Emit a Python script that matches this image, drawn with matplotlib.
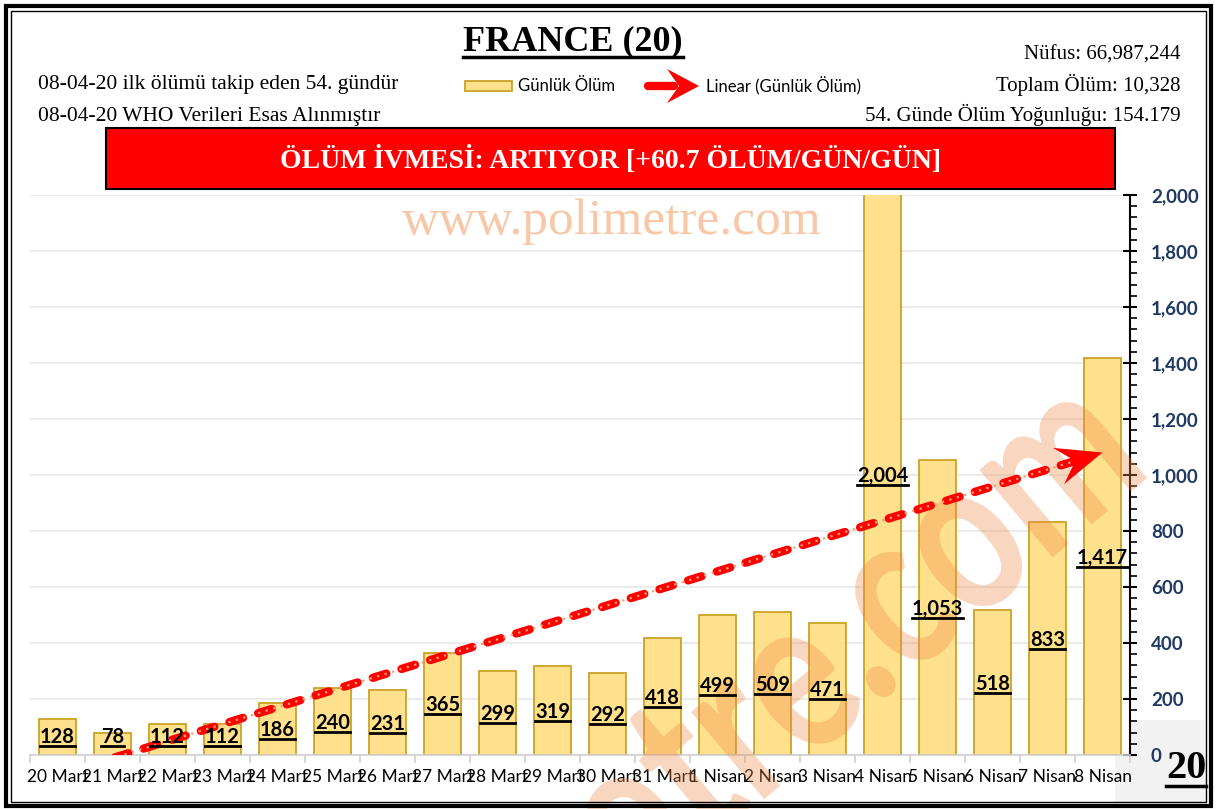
import numpy as np
import matplotlib
matplotlib.use("Agg")
import matplotlib.pyplot as plt
from matplotlib.patches import Rectangle, Polygon, PathPatch
from matplotlib.lines import Line2D
from matplotlib.ticker import MultipleLocator, FuncFormatter
from matplotlib.transforms import offset_copy, IdentityTransform, Affine2D
from matplotlib.textpath import TextPath
from matplotlib.font_manager import FontProperties

# ---- data ----
dates = ["20 Mart", "21 Mart", "22 Mart", "23 Mart", "24 Mart", "25 Mart", "26 Mart",
         "27 Mart", "28 Mart", "29 Mart", "30 Mart", "31 Mart", "1 Nisan", "2 Nisan",
         "3 Nisan", "4 Nisan", "5 Nisan", "6 Nisan", "7 Nisan", "8 Nisan"]
deaths = [128, 78, 112, 112, 186, 240, 231, 365, 299, 319, 292, 418, 499, 509,
          471, 2004, 1053, 518, 833, 1417]

title = "FRANCE (20)"
info_left = ["08-04-20 ilk ölümü takip eden 54. gündür", "08-04-20 WHO Verileri Esas Alınmıştır"]
info_right = ["Nüfus: 66,987,244", "Toplam Ölüm: 10,328", "54. Günde Ölüm Yoğunluğu: 154.179"]
banner = "ÖLÜM İVMESİ: ARTIYOR [+60.7 ÖLÜM/GÜN/GÜN]"
legend_bar = "Günlük Ölüm"
legend_trend = "Linear (Günlük Ölüm)"
watermark = "www.polimetre.com"
yticks = [0, 200, 400, 600, 800, 1000, 1200, 1400, 1600, 1800, 2000]

W, H = 1216, 809
fig = plt.figure(figsize=(W / 100, H / 100), dpi=100)

def fx(x):
    return x / W

def fy(y):
    return 1 - y / H

SERIF = "Liberation Serif"
SANS = "Lato"
BAR_FC = "#FFE08C"
BAR_EC = "#C9A227"
NAVY = "#1F3864"
RED = "#FF0000"

# ---- axes ----
ax = fig.add_axes([fx(30), fy(755), fx(1130) - fx(30), fy(195) - fy(755)])
x = np.arange(1, len(deaths) + 1)
ax.bar(x, deaths, width=0.68, color=BAR_FC, edgecolor=BAR_EC, linewidth=1.3, zorder=2)
ax.set_xlim(0.5, len(deaths) + 0.5)
ax.set_ylim(0, 2000)

# axes styling
for s in ["left", "top"]:
    ax.spines[s].set_visible(False)
ax.spines["right"].set_color("black")
ax.spines["right"].set_linewidth(1.5)
ax.spines["bottom"].set_color("#D0D0D0")
ax.spines["bottom"].set_linewidth(1.2)
ax.yaxis.tick_right()
ax.set_yticks(yticks)
ax.yaxis.set_minor_locator(MultipleLocator(40))
ax.yaxis.set_major_formatter(FuncFormatter(lambda v, p: f"{int(v):,}"))
ax.tick_params(axis="y", which="major", direction="inout", length=10, width=1.5, color="black",
               labelsize=13.5, labelcolor=NAVY, pad=10)
ax.tick_params(axis="y", which="minor", direction="out", length=5, width=1.2, color="black")
for lab in ax.get_yticklabels():
    lab.set_fontweight("bold")
    lab.set_fontfamily(SANS)
ax.set_xticks(x)
ax.set_xticklabels(dates, fontfamily=SANS, fontsize=12.5)
ax.set_xticks(np.arange(0.5, len(deaths) + 1, 1), minor=True)
ax.tick_params(axis="x", which="major", length=0, pad=10)
ax.tick_params(axis="x", which="minor", length=6, color="#D0D0D0", width=1.2)
ax.yaxis.grid(True, color="#E8E8E8", lw=1.2, zorder=0)
ax.set_axisbelow(True)

# trend line (linear regression)
slope, intercept = np.polyfit(x, deaths, 1)
xe = len(deaths)
tip = ax.transData.transform((xe, slope * xe + intercept))
p0 = ax.transData.transform((xe - 1, slope * (xe - 1) + intercept))
d = (tip - p0) / np.linalg.norm(tip - p0)
n = np.array([-d[1], d[0]])
L, Wd = 46, 19
line_end_disp = tip - 0.65 * L * d
x_end = ax.transData.inverted().transform(line_end_disp)[0]
xt = np.linspace(1, x_end, 300)
yt = slope * xt + intercept
ax.plot(xt, yt, color=RED, lw=6, linestyle=(0, (1.7, 1.9)), dash_capstyle="round", zorder=4.5)
ax.plot(xt, yt, color="#F4A070", lw=1.6, linestyle=(0, (1, 2.5)), zorder=4.6)
head = Polygon([tip, tip - L * d + Wd * n, tip - 0.62 * L * d, tip - L * d - Wd * n],
               closed=True, transform=IdentityTransform(), facecolor=RED, edgecolor="none",
               zorder=5)
ax.add_artist(head)

# data labels (cap-centred in bars, kept clear of the axis, bold, underlined)
FS_LAB = 14.5
lab_tr = offset_copy(ax.transData, fig=fig, y=-0.36 * FS_LAB, units="points")
data_texts = []
for xi, v in zip(x, deaths):
    t = ax.text(xi, max(v / 2, 70), f"{v:,}", ha="center", va="baseline", fontsize=FS_LAB,
                fontweight="bold", fontfamily=SANS, color="black", zorder=6, transform=lab_tr)
    data_texts.append(t)

# diagonal watermark, drawn as a condensed text path (pixel coordinates)
wm_prop = FontProperties(family=SANS, weight="bold")
tp = TextPath((0, 0), watermark, size=1, prop=wm_prop)
xmax = tp.vertices[:, 0].max()
k = watermark.index("tre.com")
t_left = TextPath((0, 0), watermark[:k], size=1, prop=wm_prop).vertices[:, 0].max()
t_right = TextPath((0, 0), watermark[:k + 1], size=1, prop=wm_prop).vertices[:, 0].max()
t_center = 0.5 * (t_left + t_right) + 0.03
em_x = 540.0 / (xmax - t_center)
wm_tr = (Affine2D().translate(-xmax, 0).scale(em_x, 222).rotate_deg(40)
         .translate(1147, H - 478))
wm = PathPatch(tp, transform=wm_tr, facecolor="#F08A4B", edgecolor="none", alpha=0.35,
               zorder=3, clip_on=False)
ax.add_artist(wm)

# ---- header texts ----
t_title = fig.text(fx(573), fy(50), title, ha="center", va="baseline", fontsize=26,
                   fontweight="bold", fontfamily=SERIF)
for i, s in enumerate(info_left):
    fig.text(fx(38), fy(85 + 31 * i), s, ha="left", va="center", fontsize=15.5, fontfamily=SERIF)
for i, s in enumerate(info_right):
    fig.text(fx(1181), fy(55 + 30 * i), s, ha="right", va="center", fontsize=15, fontfamily=SERIF)

# legend
fig.patches.append(Rectangle((fx(465), fy(91)), fx(47), fx(10) * W / H, transform=fig.transFigure,
                             facecolor=BAR_FC, edgecolor=BAR_EC, lw=1.3))
fig.text(fx(518), fy(86), legend_bar, ha="left", va="center", fontsize=12, fontfamily=SANS)
fig.lines.append(Line2D([fx(648), fx(674)], [fy(86), fy(86)], transform=fig.transFigure,
                        color=RED, lw=6, solid_capstyle="round"))
fig.patches.append(Polygon(
    [(fx(667), fy(69)), (fx(699), fy(86)), (fx(667), fy(103)), (fx(679), fy(86))],
    closed=True, transform=fig.transFigure, facecolor=RED, edgecolor="none"))
fig.text(fx(706), fy(86), legend_trend, ha="left", va="center", fontsize=12, fontfamily=SANS)

# banner
fig.patches.append(Rectangle((fx(106), fy(189)), fx(1115) - fx(106), fy(128) - fy(189),
                             transform=fig.transFigure, facecolor=RED, edgecolor="black", lw=1.5))
fig.text(fx(611), fy(160), banner, ha="center", va="center", fontsize=20, fontweight="bold",
         fontfamily=SERIF, color="white")

# top watermark
fig.text(fx(612), fy(222), watermark, ha="center", va="center", fontsize=37,
         fontfamily=SERIF, color="#F4B183", alpha=0.7)

# bottom-right gray box and number
fig.patches.append(Rectangle((fx(1115), fy(802)), fx(1207) - fx(1115), fy(720) - fy(802),
                             transform=fig.transFigure, facecolor="#F2F2F2", edgecolor="none", zorder=-1))
t_num = fig.text(fx(1186), fy(778), "20", ha="center", va="baseline", fontsize=29,
                 fontweight="bold", fontfamily=SERIF)

# frame
fig.patches.append(Rectangle((fx(5.5), fy(806)), fx(1205.5), fy(5.5) - fy(806), transform=fig.transFigure,
                             facecolor="none", edgecolor="black", lw=3))
fig.patches.append(Rectangle((fx(10.5), fy(802)), fx(1195.5), fy(10.5) - fy(802), transform=fig.transFigure,
                             facecolor="none", edgecolor="black", lw=1))

# underlines below the baseline
fig.canvas.draw()
r = fig.canvas.get_renderer()

def underline(t, lw, gap_px):
    bb = t.get_window_extent(r)
    base = t.get_transform().transform(t.get_position())[1]
    y = base - gap_px
    fig.lines.append(Line2D([bb.x0 / W, bb.x1 / W], [y / H, y / H], transform=fig.transFigure,
                            color="black", lw=lw, zorder=7))

underline(t_title, 2.5, 7)
underline(t_num, 2.5, 8)
for t in data_texts:
    underline(t, 2, 3)

fig.savefig("out.png", dpi=100)
